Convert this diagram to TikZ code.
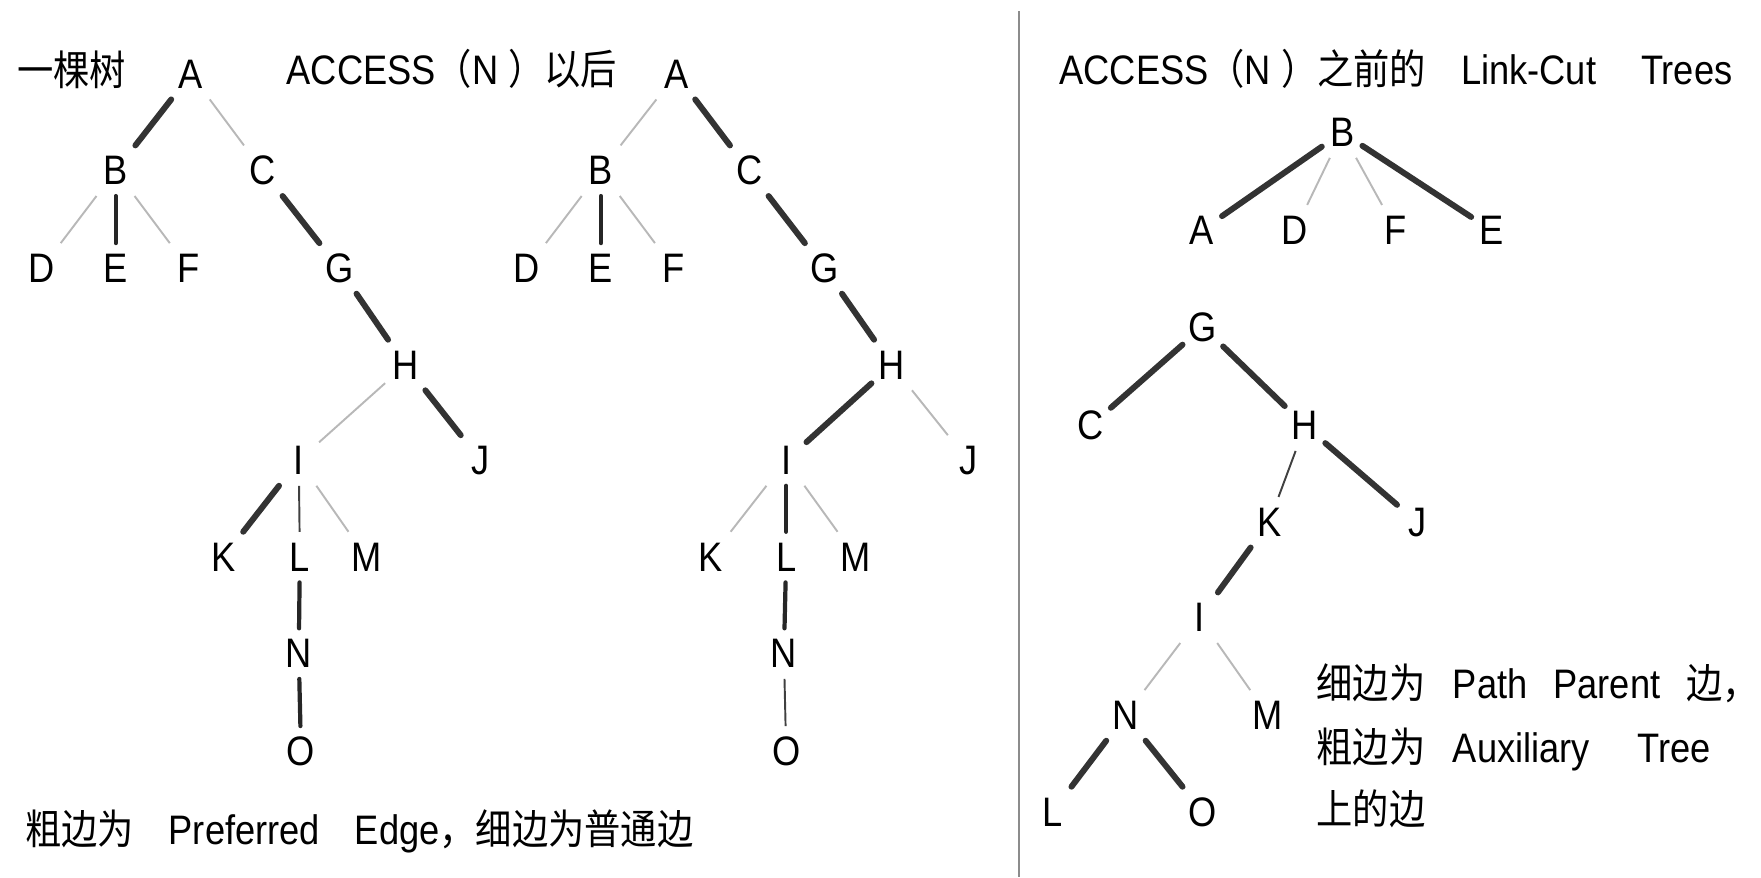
\documentclass[tikz,border=0pt]{standalone}
\usepackage{fontspec}
\setmainfont{Liberation Sans}[FakeStretch=0.88]
\newfontfamily\cjk{Noto Sans CJK SC}[FakeStretch=0.88]
\newcommand\lbl{\fontsize{23.5pt}{28pt}\selectfont}
\begin{document}
\begin{tikzpicture}[x=0.0225cm,y=-0.0225cm,font=\lbl,
  vtx/.style={inner sep=0pt,minimum width=0.8cm,minimum height=1cm},
  txt/.style={inner sep=0pt,anchor=base west},
  boldedge/.style={line width=3.4pt,black!80,line cap=round},
  midedge/.style={line width=2.4pt,black!85,line cap=round},
  darkedge/.style={line width=1.1pt,black!75},
  thinedge/.style={line width=1.1pt,black!28}]
\useasboundingbox (0,0) rectangle (1568,781);
% separator
\draw[black!45,line width=1.3pt] (907,10) -- (907,781);
% captions
\node[txt] (tree) at (15,76) {\cjk 一棵树};
\node[txt] (after) at (255,75) {ACCESS{\cjk （}N {\cjk ）以后}};
\node[txt] (before) at (943,75) {ACCESS{\cjk （}N {\cjk ）之前的}\hspace{0.7cm}Link-Cut\hspace{0.9cm}Trees};
\node[txt] (note) at (22,752) {{\cjk 粗边为}\hspace{0.7cm}Preferred\hspace{0.7cm}Edge{\cjk ，细边为普通边}};
\node[txt] (pp) at (1172,622) {{\cjk 细边为}\hspace{0.55cm}Path\hspace{0.52cm}Parent\hspace{0.52cm}{\cjk 边\makebox[0.35em][l]{，}}};
\node[txt] (aux) at (1172,679) {{\cjk 粗边为}\hspace{0.55cm}Auxiliary\hspace{0.95cm}Tree};
\node[txt] (on) at (1172,734) {\cjk 上的边};

% the tree
\node[vtx] (lA) at (170,66) {A};
\node[vtx] (lB) at (103,152) {B};
\node[vtx] (lC) at (234,152) {C};
\node[vtx] (lD) at (37,239) {D};
\node[vtx] (lE) at (103,239) {E};
\node[vtx] (lF) at (168,239) {F};
\node[vtx] (lG) at (302,239) {G};
\node[vtx] (lH) at (361,325) {H};
\node[vtx] (lI) at (266,410) {I};
\node[vtx] (lJ) at (428,410) {J};
\node[vtx] (lK) at (199,496) {K};
\node[vtx] (lL) at (267,496) {L};
\node[vtx] (lM) at (326,496) {M};
\node[vtx] (lN) at (266,582) {N};
\node[vtx] (lO) at (268,669) {O};
\draw[boldedge] (lA) -- (lB);
\draw[thinedge] (lA) -- (lC);
\draw[thinedge] (lB) -- (lD);
\draw[midedge] (lB) -- (lE);
\draw[thinedge] (lB) -- (lF);
\draw[boldedge] (lC) -- (lG);
\draw[boldedge] (lG) -- (lH);
\draw[thinedge] (lH) -- (lI);
\draw[boldedge] (lH) -- (lJ);
\draw[boldedge] (lI) -- (lK);
\draw[darkedge] (lI) -- (lL);
\draw[thinedge] (lI) -- (lM);
\draw[midedge] (lL) -- (lN);
\draw[midedge] (lN) -- (lO);

% after ACCESS(N)
\node[vtx] (mA) at (602,66) {A};
\node[vtx] (mB) at (535,152) {B};
\node[vtx] (mC) at (667,152) {C};
\node[vtx] (mD) at (469,239) {D};
\node[vtx] (mE) at (535,239) {E};
\node[vtx] (mF) at (600,239) {F};
\node[vtx] (mG) at (734,239) {G};
\node[vtx] (mH) at (794,325) {H};
\node[vtx] (mI) at (700,410) {I};
\node[vtx] (mJ) at (862,410) {J};
\node[vtx] (mK) at (633,496) {K};
\node[vtx] (mL) at (700,496) {L};
\node[vtx] (mM) at (762,496) {M};
\node[vtx] (mN) at (698,582) {N};
\node[vtx] (mO) at (700,669) {O};
\draw[thinedge] (mA) -- (mB);
\draw[boldedge] (mA) -- (mC);
\draw[thinedge] (mB) -- (mD);
\draw[midedge] (mB) -- (mE);
\draw[thinedge] (mB) -- (mF);
\draw[boldedge] (mC) -- (mG);
\draw[boldedge] (mG) -- (mH);
\draw[boldedge] (mH) -- (mI);
\draw[thinedge] (mH) -- (mJ);
\draw[thinedge] (mI) -- (mK);
\draw[midedge] (mI) -- (mL);
\draw[thinedge] (mI) -- (mM);
\draw[midedge] (mL) -- (mN);
\draw[darkedge] (mN) -- (mO);

% link-cut trees before ACCESS(N)
\node[vtx] (rB) at (1195,118) {B};
\node[vtx] (rA) at (1070,205) {A};
\node[vtx] (rD) at (1153,205) {D};
\node[vtx] (rF) at (1243,205) {F};
\node[vtx] (rE) at (1328,205) {E};
\node[vtx] (rG) at (1071,291) {G};
\node[vtx] (rC) at (971,379) {C};
\node[vtx] (rH) at (1162,379) {H};
\node[vtx] (rK) at (1130,465) {K};
\node[vtx] (rJ) at (1262,465) {J};
\node[vtx] (rI) at (1068,550) {I};
\node[vtx] (rN) at (1002,637) {N};
\node[vtx] (rM) at (1129,637) {M};
\node[vtx] (rL) at (937,723) {L};
\node[vtx] (rO) at (1071,723) {O};
\draw[boldedge] (rB) -- (rA);
\draw[thinedge] (rB) -- (rD);
\draw[thinedge] (rB) -- (rF);
\draw[boldedge] (rB) -- (rE);
\draw[boldedge] (rG) -- (rC);
\draw[boldedge] (rG) -- (rH);
\draw[darkedge] (rH) -- (rK);
\draw[boldedge] (rH) -- (rJ);
\draw[boldedge] (rK) -- (rI);
\draw[thinedge] (rI) -- (rN);
\draw[thinedge] (rI) -- (rM);
\draw[boldedge] (rN) -- (rL);
\draw[boldedge] (rN) -- (rO);
\end{tikzpicture}
\end{document}
